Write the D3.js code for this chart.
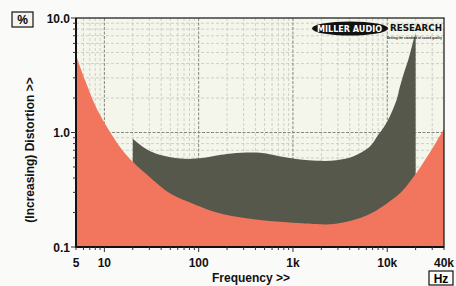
<!DOCTYPE html>
<html><head><meta charset="utf-8">
<script src="https://cdn.jsdelivr.net/npm/d3@7"></script>
<style>body{margin:0;background:#fafaf8;}svg{display:block;font-family:Arial,"Liberation Sans",sans-serif;}</style>
</head><body>
<svg id="c" width="456" height="286"></svg>
<script>
// ---- data ----
const xTickValues = [5, 10, 100, 1000, 10000, 40000];
const xTickLabels = ["5", "10", "100", "1k", "10k", "40k"];
const yTickValues = [0.1, 1, 10];
const yTickLabels = ["0.1", "1.0", "10.0"];
const noiseFreq = [5, 6.2, 8, 10, 13, 16, 20, 30, 45, 63, 81, 100, 140, 200, 320, 500, 730, 1000, 1800, 2500, 4400, 7000, 10000, 14000, 19000, 28000, 40000];
const noiseVal  = [4.75, 2.9, 1.72, 1.22, 0.86, 0.68, 0.556, 0.41, 0.31, 0.266, 0.245, 0.228, 0.205, 0.19, 0.178, 0.17, 0.166, 0.163, 0.159, 0.158, 0.172, 0.2, 0.241, 0.3, 0.41, 0.66, 1.08];
const distFreq = [20, 25, 33, 45, 60, 80, 110, 150, 200, 320, 450, 600, 800, 1200, 1800, 2900, 4400, 6500, 8000, 10000, 12500, 13600, 15000, 16700, 18000, 19400, 20000];
const distVal  = [0.88, 0.76, 0.67, 0.62, 0.595, 0.588, 0.598, 0.625, 0.648, 0.668, 0.665, 0.64, 0.61, 0.58, 0.566, 0.572, 0.62, 0.75, 0.95, 1.25, 1.9, 2.5, 3.3, 4.3, 5.4, 6.8, 7.2];

const svg = d3.select("#c");
const L = 76, R = 444, T = 18, B = 247;
const x = d3.scaleLog().domain([5, 40000]).range([L, R]);
const y = d3.scaleLog().domain([0.1, 10]).range([B, T]);

svg.append("rect").attr("x", L).attr("y", T).attr("width", R - L).attr("height", B - T).attr("fill", "#f4f6ec");

const xMinor = [], yMinor = [];
[1, 10, 100, 1000, 10000].forEach(d => { for (let k = 1; k <= 9; k++) { const v = d * k; if (v > 5 && v < 40000) xMinor.push(v); } });
[0.1, 1].forEach(d => { for (let k = 2; k <= 9; k++) yMinor.push(d * k); });
const xMajor = [10, 100, 1000, 10000];

const g = svg.append("g");
g.selectAll(".vx").data(xMinor.filter(v => !xMajor.includes(v))).join("line")
  .attr("x1", d => x(d)).attr("x2", d => x(d)).attr("y1", T).attr("y2", B)
  .attr("stroke", "#c4c6bc").attr("stroke-width", 0.8).attr("stroke-dasharray", "3,2");
g.selectAll(".hy").data(yMinor).join("line")
  .attr("y1", d => y(d)).attr("y2", d => y(d)).attr("x1", L).attr("x2", R)
  .attr("stroke", "#c4c6bc").attr("stroke-width", 0.8).attr("stroke-dasharray", "3,2");
g.selectAll(".vM").data(xMajor).join("line")
  .attr("x1", d => x(d)).attr("x2", d => x(d)).attr("y1", T).attr("y2", B)
  .attr("stroke", "#85867e").attr("stroke-width", 1).attr("stroke-dasharray", "3,1.5");
g.selectAll(".hM").data([1]).join("line")
  .attr("y1", d => y(d)).attr("y2", d => y(d)).attr("x1", L).attr("x2", R)
  .attr("stroke", "#85867e").attr("stroke-width", 1).attr("stroke-dasharray", "3,1.5");

const area = d3.area().x(d => x(d[0])).y0(B).y1(d => y(d[1])).curve(d3.curveCatmullRom.alpha(0.5));

const distData = distFreq.map((f, i) => [f, distVal[i]]);
svg.append("path").datum(distData).attr("d", area).attr("fill", "#55584b");

const noiseData = noiseFreq.map((f, i) => [f, noiseVal[i]]);
svg.append("path").datum(noiseData).attr("d", area).attr("fill", "#f2765d");

// frame
svg.append("rect").attr("x", L).attr("y", T).attr("width", R - L).attr("height", B - T)
  .attr("fill", "none").attr("stroke", "#111").attr("stroke-width", 1.2);
svg.append("line").attr("x1", L).attr("x2", L).attr("y1", T).attr("y2", B + 1).attr("stroke", "#111").attr("stroke-width", 2);
svg.append("line").attr("x1", L).attr("x2", R).attr("y1", B).attr("y2", B).attr("stroke", "#111").attr("stroke-width", 2);

// axes ticks
const ax = svg.append("g");
ax.selectAll(".xt").data(xMinor.concat([5, 40000])).join("line")
  .attr("x1", d => x(d)).attr("x2", d => x(d)).attr("y1", B).attr("y2", d => xMajor.includes(d) ? B + 5 : B + 3)
  .attr("stroke", "#333").attr("stroke-width", 1);
ax.selectAll(".yt").data(yMinor.concat(yTickValues)).join("line")
  .attr("y1", d => y(d)).attr("y2", d => y(d)).attr("x1", L).attr("x2", d => yTickValues.includes(d) ? L - 5 : L - 3)
  .attr("stroke", "#333").attr("stroke-width", 1);

ax.selectAll(".xl").data(xTickValues).join("text")
  .attr("x", d => x(d)).attr("y", 267).attr("text-anchor", "middle")
  .attr("font-size", 12).attr("font-weight", "bold").attr("fill", "#111")
  .text((d, i) => xTickLabels[i]);
ax.selectAll(".yl").data(yTickValues).join("text")
  .attr("x", L - 6).attr("y", d => y(d) + 4.5).attr("text-anchor", "end")
  .attr("font-size", 12).attr("font-weight", "bold").attr("fill", "#111")
  .text((d, i) => yTickLabels[i]);

svg.append("text").attr("x", 251).attr("y", 282).attr("text-anchor", "middle")
  .attr("font-size", 12).attr("font-weight", "bold").attr("fill", "#111").text("Frequency >>");
svg.append("text").attr("transform", "translate(34,150) rotate(-90)").attr("text-anchor", "middle")
  .attr("font-size", 12).attr("font-weight", "bold").attr("fill", "#111").text("(Increasing) Distortion >>");

// unit boxes
svg.append("rect").attr("x", 12).attr("y", 12).attr("width", 21).attr("height", 15).attr("fill", "#f4f4ee").attr("stroke", "#111").attr("stroke-width", 1.2);
svg.append("text").attr("x", 22.5).attr("y", 24).attr("text-anchor", "middle").attr("font-size", 12).attr("font-weight", "bold").text("%");
svg.append("rect").attr("x", 429).attr("y", 271).attr("width", 24).attr("height", 14).attr("fill", "#fafaf8").attr("stroke", "#111").attr("stroke-width", 1.2);
svg.append("text").attr("x", 441).attr("y", 282.5).attr("text-anchor", "middle").attr("font-size", 12).attr("font-weight", "bold").text("Hz");

// logo
svg.append("ellipse").attr("cx", 350).attr("cy", 28.5).attr("rx", 38).attr("ry", 7).attr("fill", "#111");
svg.append("text").attr("x", 317).attr("y", 32).attr("font-size", 9.5).attr("font-weight", "bold").attr("fill", "#fff").attr("font-family", "DejaVu Sans").attr("textLength", 65).attr("lengthAdjust", "spacingAndGlyphs").text("MILLER AUDIO");
svg.append("text").attr("x", 390).attr("y", 31).attr("font-size", 9).attr("font-weight", "bold").attr("fill", "#111").attr("font-family", "DejaVu Sans").attr("textLength", 52).attr("lengthAdjust", "spacingAndGlyphs").text("RESEARCH");
svg.append("text").attr("x", 387).attr("y", 38.5).attr("font-size", 3.5).attr("font-weight", "bold").attr("fill", "#222").attr("textLength", 55).attr("lengthAdjust", "spacingAndGlyphs").text("Setting the standard of sound quality");
</script>
</body></html>
